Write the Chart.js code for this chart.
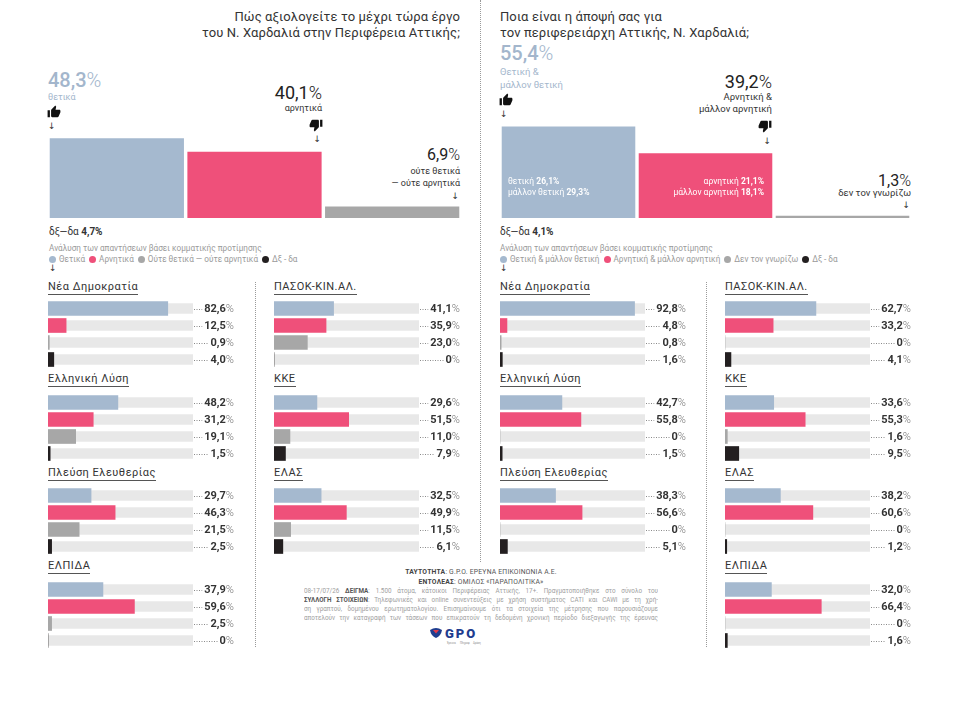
<!DOCTYPE html>
<html lang="el">
<head>
<meta charset="utf-8">
<title>GPO - Χαρδαλιάς</title>
<script src="https://cdn.jsdelivr.net/npm/chart.js@4.4.1/dist/chart.umd.min.js"></script>
<style>
  body { margin: 0; background: #fff; font-family: Roboto, "Noto Sans", sans-serif; color: #333; }
  #page { position: relative; width: 960px; height: 713px; overflow: hidden; }
  .t { position: absolute; white-space: nowrap; line-height: 1; }
  .r { text-align: right; }
  .title { font-size: 13px; line-height: 16px; color: #333; letter-spacing: 0.1px; }
  .big { font-weight: 500; }
  .big span { font-weight: 300; }
  .small { font-size: 9px; line-height: 12px; color: #333; }
  .blue { color: #a3b6cc; }
  .arrow { font-size: 9px; color: #333; font-family: "DejaVu Sans", sans-serif; }
  .note { font-size: 8.2px; color: #9a9a9a; }
  .legend { font-size: 8.2px; color: #9a9a9a; }
  .legend i { display: inline-block; width: 7px; height: 7px; border-radius: 50%; margin: 0 3px 0 0; vertical-align: -0.5px; }
  .legend b { font-weight: 400; margin-right: 4px; }
  .dk { font-size: 10px; color: #333; }
  .dk b { font-weight: 700; }
  .inner { font-size: 8.5px; line-height: 11px; color: #fff; }
  .inner b { font-weight: 700; }
  .grp { position: absolute; font-size: 11px; line-height: 12px; letter-spacing: 0.5px; color: #333;
         border-bottom: 1px solid #555; padding-bottom: 1px; white-space: nowrap; }
  canvas { position: absolute; }
  .vline { position: absolute; width: 0; border-left: 1px dotted #9a9a9a; }
  .thumb { position: absolute; width: 14px; height: 14px; }
  #footer { position: absolute; left: 304px; top: 568px; width: 354px; color: #a0a0a0; font-size: 6.3px; }
  #footer .c { text-align: center; color: #555; font-size: 6.8px; line-height: 9.5px; letter-spacing: 0.2px; }
  #footer .c b { font-weight: 700; color: #444; }
  #footer .j { text-align: justify; text-align-last: justify; line-height: 9px; white-space: nowrap; overflow: hidden; }
  #footer .j b { font-weight: 700; color: #555; }
</style>
</head>
<body>
<div id="page">
  <!-- dividers -->
  <div class="vline" style="left:480px; top:0; height:562px;"></div>
  <div class="vline" style="left:255px; top:282px; height:365px;"></div>
  <div class="vline" style="left:706px; top:282px; height:365px;"></div>

  <!-- left panel header -->
  <div class="t title r" style="right:500px; top:9px;">Πώς αξιολογείτε το μέχρι τώρα έργο<br>του Ν. Χαρδαλιά στην Περιφέρεια Αττικής;</div>
  <div class="t big blue" id="lBig0" style="left:48px; top:70px; font-size:20px;"></div>
  <div class="t small blue" style="left:48px; top:91px;">θετικά</div>
  <svg class="thumb" style="left:47px; top:105px;" viewBox="0 0 24 24"><path fill="#111" d="M1 21h4V9H1v12zm22-11c0-1.1-.9-2-2-2h-6.31l.95-4.57.03-.32c0-.41-.17-.79-.44-1.060L14.17 1 7.59 7.59C7.22 7.95 7 8.45 7 9v10c0 1.1.9 2 2 2h9c.83 0 1.54-.5 1.84-1.22l3.02-7.05c.09-.23.14-.47.14-.73v-2z"/></svg>
  <div class="t arrow" style="left:48px; top:122px;">↓</div>
  <div class="t big r" id="lBig1" style="right:638px; top:84px; font-size:18px; font-weight:400; color:#222;"></div>
  <div class="t small r" style="right:638px; top:102px;">αρνητικά</div>
  <svg class="thumb" style="left:309px; top:118px;" viewBox="0 0 24 24"><path fill="#111" d="M15 3H6c-.83 0-1.54.5-1.84 1.22l-3.02 7.05c-.09.23-.14.47-.14.73v2c0 1.1.9 2 2 2h6.31l-.95 4.57-.03.32c0 .41.17.79.44 1.06L9.83 23l6.59-6.59c.36-.36.58-.86.58-1.41V5c0-1.1-.9-2-2-2zm4 0v12h4V3h-4z"/></svg>
  <div class="t arrow r" style="right:639px; top:135px;">↓</div>
  <div class="t big r" id="lBig2" style="right:500px; top:147px; font-size:16px; font-weight:400; color:#222;"></div>
  <div class="t small r" style="right:500px; top:166px; line-height:11.5px;">ούτε θετικά<br>— ούτε αρνητικά</div>
  <div class="t arrow r" style="right:501px; top:192px;">↓</div>
  <canvas id="bigLeft" width="413" height="90" style="left:48px; top:128px;"></canvas>
  <div class="t dk" id="lDk" style="left:49px; top:227px;"></div>
  <div class="t note" style="left:49px; top:244px;">Ανάλυση των απαντήσεων βάσει κομματικής προτίμησης</div>
  <div class="t legend" id="lLegend" style="left:49px; top:255px;"></div>
  <div class="t arrow" style="left:49px; top:264px;">↓</div>

  <!-- right panel header -->
  <div class="t title" style="left:500px; top:9px; line-height:15.5px;">Ποια είναι η άποψή σας για<br>τον περιφερειάρχη Αττικής, Ν. Χαρδαλιά;</div>
  <div class="t big blue" id="rBig0" style="left:500px; top:43px; font-size:20px;"></div>
  <div class="t small blue" style="left:500px; top:65px; line-height:13px; font-size:9.5px;">Θετική &amp;<br>μάλλον θετική</div>
  <svg class="thumb" style="left:499px; top:93px;" viewBox="0 0 24 24"><path fill="#111" d="M1 21h4V9H1v12zm22-11c0-1.1-.9-2-2-2h-6.31l.95-4.57.03-.32c0-.41-.17-.79-.44-1.06L14.17 1 7.59 7.59C7.22 7.95 7 8.45 7 9v10c0 1.1.9 2 2 2h9c.83 0 1.54-.5 1.84-1.22l3.02-7.05c.09-.23.14-.47.14-.73v-2z"/></svg>
  <div class="t arrow" style="left:500px; top:110px;">↓</div>
  <div class="t big r" id="rBig1" style="right:188px; top:73px; font-size:18px; font-weight:400; color:#222;"></div>
  <div class="t small r" style="right:188px; top:91px; font-size:9.5px;">Αρνητική &amp;<br>μάλλον αρνητική</div>
  <svg class="thumb" style="left:758px; top:119px;" viewBox="0 0 24 24"><path fill="#111" d="M15 3H6c-.83 0-1.54.5-1.84 1.22l-3.02 7.05c-.09.23-.14.47-.14.73v2c0 1.1.9 2 2 2h6.31l-.95 4.57-.03.32c0 .41.17.79.44 1.06L9.83 23l6.59-6.59c.36-.36.58-.86.58-1.41V5c0-1.1-.9-2-2-2zm4 0v12h4V3h-4z"/></svg>
  <div class="t arrow r" style="right:189px; top:137px;">↓</div>
  <div class="t big r" id="rBig2" style="right:49px; top:173px; font-size:16px; font-weight:400; color:#222;"></div>
  <div class="t small r" style="right:49px; top:187px; font-size:9.5px;">δεν τον γνωρίζω</div>
  <div class="t arrow r" style="right:50px; top:201px;">↓</div>
  <canvas id="bigRight" width="411" height="100" style="left:500px; top:118px;"></canvas>
  <div class="t inner" id="rInPos" style="left:508px; top:176px;"></div>
  <div class="t inner r" id="rInNeg" style="right:196px; top:176px;"></div>
  <div class="t dk" id="rDk" style="left:500px; top:227px;"></div>
  <div class="t note" style="left:500px; top:244px;">Ανάλυση των απαντήσεων βάσει κομματικής προτίμησης</div>
  <div class="t legend" id="rLegend" style="left:500px; top:255px;"></div>
  <div class="t arrow" style="left:500px; top:264px;">↓</div>

  <!-- footer -->
  <div id="footer">
    <div class="c"><b>ΤΑΥΤΟΤΗΤΑ</b>: G.P.O. ΕΡΕΥΝΑ ΕΠΙΚΟΙΝΩΝΙΑ Α.Ε.</div>
    <div class="c"><b>ΕΝΤΟΛΕΑΣ</b>: ΟΜΙΛΟΣ «ΠΑΡΑΠΟΛΙΤΙΚΑ»</div>
    <div class="j">08-17/07/26 <b>ΔΕΙΓΜΑ</b>: 1.500 άτομα, κάτοικοι Περιφέρειας Αττικής, 17+. Πραγματοποιήθηκε στο σύνολο του</div>
    <div class="j"><b>ΣΥΛΛΟΓΗ ΣΤΟΙΧΕΙΩΝ</b>: Τηλεφωνικές και online συνεντεύξεις με χρήση συστήματος CATI και CAWI με τη χρή-</div>
    <div class="j">ση γραπτού, δομημένου ερωτηματολογίου. Επισημαίνουμε ότι τα στοιχεία της μέτρησης που παρουσιάζουμε</div>
    <div class="j">αποτελούν την καταγραφή των τάσεων που επικρατούν τη δεδομένη χρονική περίοδο διεξαγωγής της έρευνας</div>
    <svg style="position:absolute; left:125px; top:59px;" width="66" height="18" viewBox="0 0 66 18">
      <path d="M1 3 Q7 -1 13 3 Q12 9 7 11 Q2 9 1 3 Z" fill="#1f3d8f"/>
      <path d="M4 3 L10 3 L7 6.5 Z" fill="#e23a4a"/>
      <text x="16" y="10.5" font-family="Roboto" font-weight="900" font-size="13" fill="#1f3d8f" letter-spacing="2">GPO</text>
      <text x="18" y="16.5" font-family="Roboto" font-size="2.6" fill="#888">Έρευνα</text>
      <text x="31" y="16.5" font-family="Roboto" font-size="2.6" fill="#888">Πληροφ</text>
      <text x="44" y="16.5" font-family="Roboto" font-size="2.6" fill="#888">Δράση</text>
    </svg>
  </div>
</div>

<script>
// ---- data ----
const leftTotals = [48.3, 40.1, 6.9];   // θετικά, αρνητικά, ούτε-ούτε
const leftDkna = 4.7;
const rightTotals = [55.4, 39.2, 1.3];  // θετική & μάλλον θετική, αρνητική & μάλλον αρνητική, δεν τον γνωρίζω
const rightDkna = 4.1;
const rightPositiveSplit = [26.1, 29.3]; // θετική, μάλλον θετική
const rightNegativeSplit = [21.1, 18.1]; // αρνητική, μάλλον αρνητική

const leftSeries = ["Θετικά", "Αρνητικά", "Ούτε θετικά — ούτε αρνητικά", "Δξ - δα"];
const rightSeries = ["Θετική & μάλλον θετική", "Αρνητική & μάλλον αρνητική", "Δεν τον γνωρίζω", "Δξ - δα"];

const parties = ["Νέα Δημοκρατία", "Ελληνική Λύση", "Πλεύση Ελευθερίας", "ΠΑΣΟΚ-ΚΙΝ.ΑΛ.", "ΚΚΕ", "ΕΛΑΣ", "ΕΛΠΙΔΑ"];

const leftPositive = [82.6, 48.2, 29.7, 41.1, 29.6, 32.5, 37.9];
const leftNegative = [12.5, 31.2, 46.3, 35.9, 51.5, 49.9, 59.6];
const leftNeutral  = [0.9, 19.1, 21.5, 23.0, 11.0, 11.5, 2.5];
const leftDk       = [4.0, 1.5, 2.5, 0, 7.9, 6.1, 0];

const rightPositive = [92.8, 42.7, 38.3, 62.7, 33.6, 38.2, 32.0];
const rightNegative = [4.8, 55.8, 56.6, 33.2, 55.3, 60.6, 66.4];
const rightUnknown  = [0.8, 0, 0, 0, 1.6, 0, 0];
const rightDk       = [1.6, 1.5, 5.1, 4.1, 9.5, 1.2, 1.6];

// ---- layout / style ----
const colors = ["#a5b9cf", "#ef507a", "#a7a7a7", "#231f20"];
const trackColor = "#e8e8e8";
const pxPerPct = 1.65;
const leftCols = [48, 274], rightCols = [500, 725];
const rowTops = [300, 394, 487, 581];
const titleCenters = [288, 380, 474, 567];
const leftSlots  = [[0, 0], [0, 1], [0, 2], [1, 0], [1, 1], [1, 2], [0, 3]];
const rightSlots = [[0, 0], [0, 1], [0, 2], [1, 0], [1, 1], [1, 2], [1, 3]];

Chart.defaults.font.family = "Roboto";

function fmt(v) {
  return v === 0 ? "0" : v.toFixed(1).replace(".", ",");
}

// headline texts
document.getElementById("lBig0").innerHTML = fmt(leftTotals[0]) + "<span>%</span>";
document.getElementById("lBig1").innerHTML = fmt(leftTotals[1]) + "<span>%</span>";
document.getElementById("lBig2").innerHTML = fmt(leftTotals[2]) + "<span>%</span>";
document.getElementById("rBig0").innerHTML = fmt(rightTotals[0]) + "<span>%</span>";
document.getElementById("rBig1").innerHTML = fmt(rightTotals[1]) + "<span>%</span>";
document.getElementById("rBig2").innerHTML = fmt(rightTotals[2]) + "<span>%</span>";
document.getElementById("lDk").innerHTML = "δξ—δα <b>" + fmt(leftDkna) + "%</b>";
document.getElementById("rDk").innerHTML = "δξ—δα <b>" + fmt(rightDkna) + "%</b>";
document.getElementById("rInPos").innerHTML =
  "θετική <b>" + fmt(rightPositiveSplit[0]) + "%</b><br>μάλλον θετική <b>" + fmt(rightPositiveSplit[1]) + "%</b>";
document.getElementById("rInNeg").innerHTML =
  "αρνητική <b>" + fmt(rightNegativeSplit[0]) + "%</b><br>μάλλον αρνητική <b>" + fmt(rightNegativeSplit[1]) + "%</b>";

function legendHtml(names) {
  return names.map((n, i) => '<i style="background:' + colors[i] + '"></i><b>' + n + "</b>").join("");
}
document.getElementById("lLegend").innerHTML = legendHtml(leftSeries);
document.getElementById("rLegend").innerHTML = legendHtml(rightSeries);

// big column charts
function bigChart(id, labels, values) {
  const canvas = document.getElementById(id);
  new Chart(canvas, {
    type: "bar",
    data: {
      labels: labels,
      datasets: [{ data: values, backgroundColor: colors.slice(0, 3), barPercentage: 0.975, categoryPercentage: 1 }],
    },
    options: {
      responsive: false,
      animation: false,
      events: [],
      layout: { padding: 0 },
      plugins: { legend: { display: false }, tooltip: { enabled: false } },
      scales: {
        x: { display: false },
        y: { display: false, min: 0, max: canvas.height / pxPerPct },
      },
    },
  });
}
bigChart("bigLeft", leftSeries.slice(0, 3), leftTotals);
bigChart("bigRight", rightSeries.slice(0, 3), rightTotals);

// value labels with dotted leaders
const valueLabels = {
  id: "valueLabels",
  afterDatasetsDraw(chart) {
    const { ctx, chartArea } = chart;
    const meta = chart.getDatasetMeta(0);
    const right = chart.width - 1;
    meta.data.forEach((bar, i) => {
      const num = fmt(chart.data.datasets[0].data[i]);
      ctx.save();
      ctx.font = "bold 11px Roboto";
      const nw = ctx.measureText(num).width;
      ctx.font = "300 11px Roboto";
      const pw = ctx.measureText("%").width;
      const start = right - pw - nw;
      ctx.strokeStyle = "#8a8a8a";
      ctx.lineWidth = 1;
      ctx.setLineDash([1, 1.5]);
      ctx.beginPath();
      ctx.moveTo(chartArea.right + 1, Math.round(bar.y) + 0.5);
      ctx.lineTo(start - 2, Math.round(bar.y) + 0.5);
      ctx.stroke();
      ctx.textBaseline = "middle";
      ctx.fillStyle = "#333";
      ctx.font = "bold 11px Roboto";
      ctx.fillText(num, start, bar.y + 0.5);
      ctx.fillStyle = "#777";
      ctx.font = "300 11px Roboto";
      ctx.fillText("%", start + nw, bar.y + 0.5);
      ctx.restore();
    });
  },
};

function groupChart(x, top, names, values) {
  const canvas = document.createElement("canvas");
  canvas.width = 187;
  canvas.height = 68;
  canvas.style.left = x + "px";
  canvas.style.top = top + "px";
  document.getElementById("page").appendChild(canvas);
  new Chart(canvas, {
    type: "bar",
    data: {
      labels: names,
      datasets: [
        { data: values, backgroundColor: colors, barThickness: 14, grouped: false, order: 0 },
        { data: names.map(() => 100), backgroundColor: trackColor, barThickness: 10, grouped: false, order: 1 },
      ],
    },
    options: {
      indexAxis: "y",
      responsive: false,
      animation: false,
      events: [],
      layout: { padding: { right: 42 } },
      plugins: { legend: { display: false }, tooltip: { enabled: false } },
      scales: {
        x: { display: false, min: 0, max: 100 },
        y: { display: false },
      },
    },
    plugins: [valueLabels],
  });
}

function panel(cols, slots, names, series) {
  parties.forEach((p, k) => {
    const [c, r] = slots[k];
    const title = document.createElement("div");
    title.className = "grp";
    title.textContent = p;
    title.style.left = cols[c] + "px";
    title.style.top = (titleCenters[r] - 7) + "px";
    document.getElementById("page").appendChild(title);
    groupChart(cols[c], rowTops[r], names, series.map(s => s[k]));
  });
}
panel(leftCols, leftSlots, leftSeries, [leftPositive, leftNegative, leftNeutral, leftDk]);
panel(rightCols, rightSlots, rightSeries, [rightPositive, rightNegative, rightUnknown, rightDk]);
</script>
</body>
</html>
